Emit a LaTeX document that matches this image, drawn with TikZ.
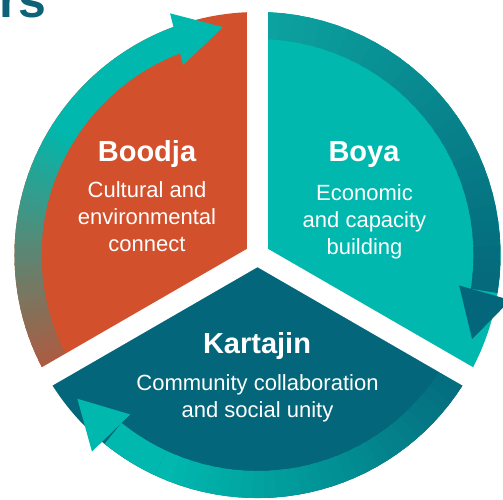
\documentclass[tikz,border=0pt]{standalone}
\usepackage{fontspec}
\setmainfont{Liberation Sans}
\definecolor{boodjared}{RGB}{211,80,44}
\definecolor{boyateal}{RGB}{0,184,174}
\definecolor{kartblue}{RGB}{4,102,122}
\definecolor{bandbrown}{RGB}{178,88,60}
\definecolor{bandtop}{RGB}{12,164,160}
\definecolor{banddark}{RGB}{4,106,124}
\definecolor{headblue}{RGB}{14,98,120}
\newcommand{\rin}{216}
\newcommand{\rout}{243}
% ring piece from angle #1 to angle #2, colour #3 fading into #4
\newcommand{\gradband}[4]{%
  \foreach \k in {0,...,29}{%
    \pgfmathsetmacro{\angA}{#1+(#2-#1)*(\k-0.4)/30}%
    \pgfmathsetmacro{\angB}{#1+(#2-#1)*(\k+1)/30}%
    \pgfmathsetmacro{\mixp}{100*\k/29}%
    \fill[#4!\mixp!#3] (\angA:\rin) arc[start angle=\angA, end angle=\angB, radius=\rin]
      -- (\angB:\rout) arc[start angle=\angB, end angle=\angA, radius=\rout] -- cycle;
  }}
\tikzset{
  headtxt/.style={font=\bfseries\fontsize{29}{32}\selectfont, text=white, anchor=base},
  blurb/.style={font=\fontsize{22}{27}\selectfont, text=white, align=center},
  gap/.style={draw=white, line width=21},
}

\begin{document}
\begin{tikzpicture}[x=1pt,y=1pt]
   \useasboundingbox (-257.5,-245) rectangle (245.5,255);

   \fill[boodjared] (0,0) -- (90:\rout) arc[start angle=90, end angle=210, radius=\rout] -- cycle;
   \fill[boyateal] (0,0) -- (-30:\rout) arc[start angle=-30, end angle=90, radius=\rout] -- cycle;
   \fill[kartblue] (0,0) -- (210:\rout) arc[start angle=210, end angle=330, radius=\rout] -- cycle;

   \gradband{210}{145}{bandbrown}{boyateal}
   \fill[boyateal] (145:\rin) arc[start angle=145, end angle=109, radius=\rin]
      -- (109:\rout) arc[start angle=109, end angle=145, radius=\rout] -- cycle;
   \gradband{90}{-9}{bandtop}{banddark}
   \gradband{-30}{-115}{banddark}{boyateal}
   \fill[boyateal] (-115:\rin) arc[start angle=-115, end angle=-129, radius=\rin]
      -- (-129:\rout) arc[start angle=-129, end angle=-115, radius=\rout] -- cycle;

   \draw[gap] (0,0) -- (90:262);
   \draw[gap] (0,0) -- (210:262);
   \draw[gap] (0,0) -- (-30:262);

   \fill[boyateal] (109.9:257) -- (98.6:230.5) -- (111.4:204) -- cycle;
   \fill[kartblue] (-10.1:257) -- (-21.4:230.5) -- (-8.6:204) -- cycle;
   \fill[boyateal] (229.9:257) -- (218.6:230.5) -- (231.4:204) -- cycle;

   \node[headtxt] (boodja) at (-110.5,93.5) {Boodja};
   \node[blurb] (boodjatxt) at (-110.5,38) {Cultural and\\environmental\\connect};
   \node[headtxt] (boya) at (106.5,93.5) {Boya};
   \node[blurb] (boyatxt) at (107,33.6) {Economic\\and capacity\\building};
   \node[headtxt] (kartajin) at (-0.5,-98.3) {Kartajin};
   \node[blurb] (kartajintxt) at (0,-142.9) {Community collaboration\\and social unity};

   \node[font=\bfseries\fontsize{50}{55}\selectfont, text=headblue, anchor=base east, inner sep=0pt] (heading) at (-211,237.5) {rs};
\end{tikzpicture}
\end{document}
